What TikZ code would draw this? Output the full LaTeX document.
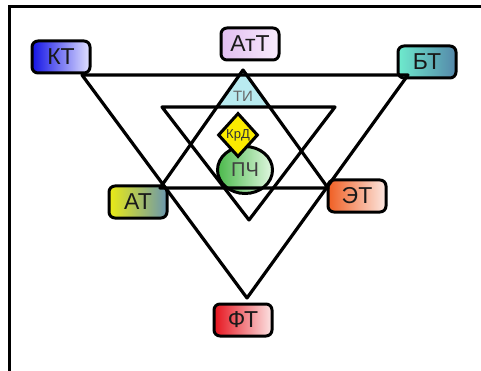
\documentclass[tikz,border=0pt]{standalone}
\usepackage{fontspec}
\setmainfont{Liberation Sans}
\usetikzlibrary{calc,shapes.geometric}

\definecolor{ktL}{RGB}{20,20,230}
\definecolor{ktR}{RGB}{225,225,255}
\definecolor{attL}{RGB}{225,190,240}
\definecolor{attR}{RGB}{248,235,252}
\definecolor{btL}{RGB}{110,235,205}
\definecolor{btR}{RGB}{85,135,170}
\definecolor{aL}{RGB}{235,235,20}
\definecolor{aR}{RGB}{105,150,175}
\definecolor{etL}{RGB}{240,95,35}
\definecolor{etR}{RGB}{252,232,226}
\definecolor{ftL}{RGB}{230,20,30}
\definecolor{ftR}{RGB}{252,228,228}
\definecolor{pchL}{RGB}{75,185,75}
\definecolor{pchR}{RGB}{225,248,225}
\definecolor{tiC}{RGB}{185,235,240}
\definecolor{krdC}{RGB}{250,235,0}

\tikzset{
  tbox/.style={draw,line width=3pt,rounded corners=6pt,minimum width=58pt,minimum height=32pt,
    inner sep=0pt,font=\fontsize{23}{23}\selectfont,text=black!90},
  edge/.style={line width=3.2pt,line join=round}
}

\begin{document}
\begin{tikzpicture}[x=1pt,y=-1pt]
        \useasboundingbox (0,0) rectangle (481,371);
        % Frame
        \draw[line width=3pt] (9,371) -- (9,7) -- (481,7);
        % Boxes round the star
        \foreach \nm/\x/\y/\lc/\rc/\txt in {kt/61/57/ktL/ktR/КТ, att/250/44/attL/attR/АтТ,
            bt/427/62/btL/btR/БТ, at/138/202/aL/aR/АТ, et/357/196/etL/etR/ЭТ, ft/243/320/ftL/ftR/ФТ} {
            \node[tbox,left color=\lc,right color=\rc] (\nm) at (\x,\y) {\txt};
        }
        % Centre
        \node[draw,ellipse,line width=3pt,left color=pchL,right color=pchR,minimum width=55pt,
            minimum height=47pt,inner sep=0pt,font=\fontsize{20}{20}\selectfont,text=black!75] (pch) at (245,170) {ПЧ};
        \node[draw,diamond,line width=3pt,fill=krdC,minimum width=40pt,minimum height=44pt,
            inner sep=0pt,font=\fontsize{13}{13}\selectfont,text=black!80] (krd) at (238,135) {КрД};
        % Triangle corners
        \coordinate (big1) at (82,75);
        \coordinate (big2) at (408,75);
        \coordinate (big3) at (247,298);
        \coordinate (up1) at (243,70);
        \coordinate (up2) at (160,188);
        \coordinate (up3) at (328,188);
        \coordinate (in1) at (162,107);
        \coordinate (in2) at (335,107);
        \coordinate (in3) at (249,220);
        \coordinate (ti1) at ($(up1)!0.3136!(up2)$);
        \coordinate (ti2) at ($(up1)!0.3136!(up3)$);
        \fill[tiC] (up1) -- (ti1) -- (ti2) -- cycle;
        % Triangles
        \draw[edge] (big1) -- (big2) -- (big3) -- cycle;
        \draw[edge] (up1) -- (up2) -- (up3) -- cycle;
        \draw[edge] (in1) -- (in2) -- (in3) -- cycle;
        \node[font=\fontsize{15}{15}\selectfont,text=black!60,inner sep=0pt] (ti) at (243,96) {ТИ};
\end{tikzpicture}
\end{document}
